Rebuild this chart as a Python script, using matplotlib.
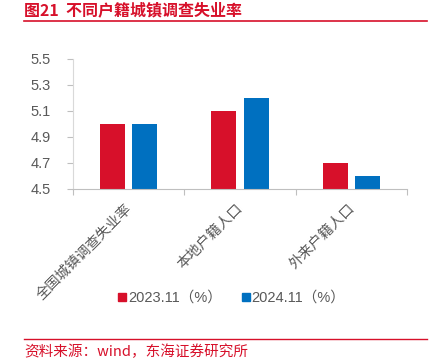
import numpy as np
import matplotlib.pyplot as plt
from matplotlib.lines import Line2D

plt.rcParams['font.family'] = ['Noto Sans CJK SC', 'DejaVu Sans']

categories = ["全国城镇调查失业率", "本地户籍人口", "外来户籍人口"]
values_2023 = [5.0, 5.1, 4.7]
values_2024 = [5.0, 5.2, 4.6]
series_names = ["2023.11（%）", "2024.11（%）"]
yticks = [4.5, 4.7, 4.9, 5.1, 5.3, 5.5]

RED = "#d7102a"
BLUE = "#0070c0"
GREY = "#595959"

fig = plt.figure(figsize=(4.3, 3.61), dpi=100)
ax = fig.add_axes([0.1698, 0.4765, 0.7767, 0.3601])

x = np.arange(len(categories))
w = 0.225
ax.bar(x - 0.144, values_2023, w, color=RED, label=series_names[0])
ax.bar(x + 0.144, values_2024, w, color=BLUE, label=series_names[1])

ax.set_xlim(-0.5, len(categories) - 0.5)
ax.set_ylim(4.5, 5.5)
ax.set_yticks(yticks)
ax.set_yticklabels([f"{v:.1f}" for v in yticks], color=GREY, fontsize=10.5,
                   family='Liberation Sans')
ax.tick_params(axis='y', length=4, color="#bfbfbf", pad=12)

# category boundary ticks on x
ax.set_xticks(np.arange(len(categories) + 1) - 0.5, minor=False)
ax.set_xticklabels([])
ax.tick_params(axis='x', length=4, color="#bfbfbf")
for i, c in enumerate(categories):
    ax.annotate(c, xy=(i, 4.5), xycoords='data', xytext=(-3, -9),
                textcoords='offset points', rotation=45, ha='right', va='top',
                rotation_mode='anchor', fontsize=10.3, color=GREY,
                fontweight='light')

for s in ['top', 'right']:
    ax.spines[s].set_visible(False)
ax.spines['left'].set_color("#d9d9d9")
ax.spines['bottom'].set_color("#bfbfbf")

leg = fig.legend(handles=[Line2D([], [], marker='s', ls='', color=RED, markersize=5.5),
                          Line2D([], [], marker='s', ls='', color=BLUE, markersize=5.5)],
                 labels=series_names, loc='center', bbox_to_anchor=(0.535, 0.175),
                 ncol=2, frameon=False, fontsize=10.5, handletextpad=-0.1,
                 columnspacing=1.15, handlelength=1.0)
for t in leg.get_texts():
    t.set_color(GREY)
    t.set_family(['Liberation Sans', 'Noto Sans CJK SC'])

fig.text(0.056, 0.972, "图21  不同户籍城镇调查失业率", color=RED, fontsize=11.5,
         fontweight='bold', ha='left', va='center')
fig.add_artist(Line2D([0.056, 0.993], [0.942, 0.942], color=RED, lw=1.2,
                      transform=fig.transFigure))
fig.add_artist(Line2D([0.056, 0.993], [0.061, 0.061], color=RED, lw=1.0,
                      transform=fig.transFigure))
fig.text(0.056, 0.025, "资料来源：wind，东海证券研究所", color=RED, fontsize=10.5,
         ha='left', va='center')

fig.savefig("out.png", dpi=100)
